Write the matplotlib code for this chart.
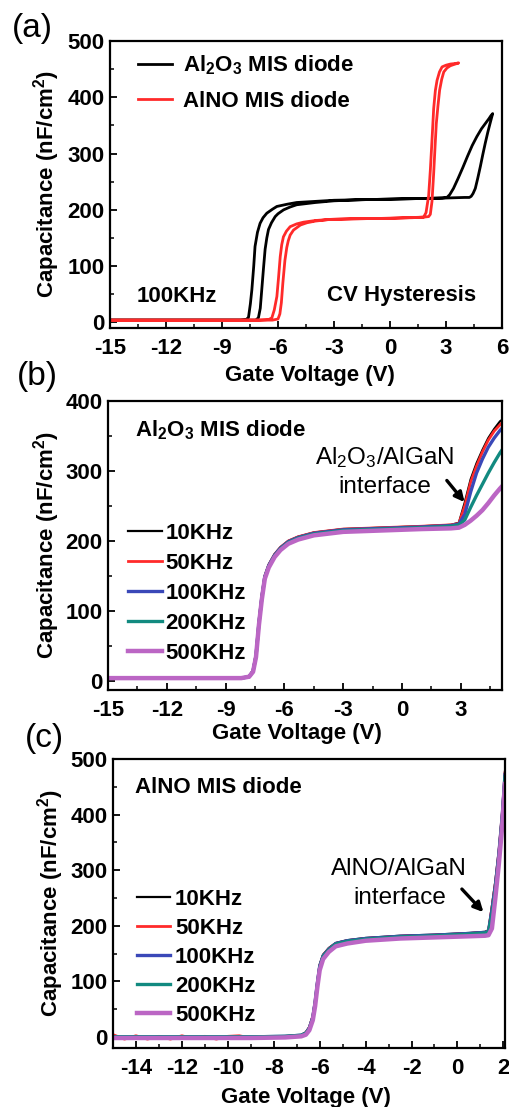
import matplotlib
matplotlib.use("Agg")
import matplotlib.pyplot as plt
from matplotlib.ticker import MultipleLocator

plt.rcParams.update({
    "font.family": ["Liberation Sans", "DejaVu Sans"],
    "font.weight": "bold",
    "mathtext.default": "regular",
    "axes.unicode_minus": False,
    "axes.linewidth": 1.6,
    "xtick.direction": "in",
    "ytick.direction": "in",
})

# ---------------- (a) CV hysteresis at 100 kHz ----------------
al2o3_up_v = [-15, -12, -9, -8.0, -7.7, -7.58, -7.48, -7.40, -7.30, -7.23, -7.10, -6.96,
              -6.80, -6.60, -6.30, -6.06, -5.5, -5.0, -4.0, -3.0, -1.5, 0, 1.5, 3.0, 4.0,
              4.25, 4.35, 4.45, 4.57, 4.70, 4.84, 4.97, 5.10, 5.24, 5.38, 5.50]
al2o3_up_c = [4, 4, 4, 4, 5, 9, 33, 58, 100, 135, 160, 176,
              186, 194, 201, 206, 210, 213, 215, 217, 218, 219, 220, 221, 222,
              222, 224, 229, 238, 256, 277, 298, 318, 338, 356, 371]
al2o3_dn_v = [5.50, 5.40, 5.30, 5.10, 4.90, 4.65, 4.40, 4.15, 3.90, 3.65, 3.40, 3.20,
              3.05, 2.80, 1.5, 0, -1.5, -3.0, -4.0, -5.0, -5.35, -5.70, -6.00, -6.15,
              -6.35, -6.51, -6.60, -6.69, -6.78, -6.87, -6.95, -7.05, -7.20, -9, -12, -15]
al2o3_dn_c = [371, 367, 362, 353, 344, 330, 314, 295, 275, 256, 238, 227,
              222, 221, 220, 219, 218, 216, 213, 209, 205, 200, 193, 188,
              177, 165, 150, 130, 95, 58, 25, 8, 4, 4, 4, 4]

alno_up_v = [-15, -12, -9, -7.0, -6.5, -6.33, -6.20, -6.06, -5.97, -5.88, -5.80, -5.71,
             -5.55, -5.35, -5.0, -4.64, -4.0, -3.2, -2.0, 0, 1.2, 1.8, 1.93, 2.00,
             2.07, 2.16, 2.25, 2.34, 2.43, 2.52, 2.65, 2.79, 3.00, 3.23, 3.50, 3.68]
alno_up_c = [4, 4, 4, 4, 5, 8, 22, 46, 80, 117, 138, 152,
             162, 170, 175, 178, 181, 183, 184, 185, 186, 187, 195, 210,
             225, 270, 324, 380, 412, 430, 445, 454, 457, 459, 460, 461]
alno_dn_v = [3.68, 3.40, 3.23, 3.05, 2.88, 2.77, 2.66, 2.57, 2.48, 2.41, 2.34, 2.25,
             2.16, 2.07, 1.8, 0, -2.0, -3.2, -4.0, -4.45, -4.80, -5.17, -5.35, -5.45,
             -5.53, -5.63, -5.74, -5.82, -5.90, -6.00, -6.30, -9, -12, -15]
alno_dn_c = [461, 458, 456, 452, 445, 432, 413, 385, 353, 310, 265, 215,
             192, 188, 187, 185, 184, 183, 180, 177, 173, 164, 155, 145,
             133, 110, 70, 35, 15, 6, 4, 4, 4, 4]

# ---------------- (b) Al2O3 diode, frequency dispersion ----------------
freq_labels = ["10KHz", "50KHz", "100KHz", "200KHz", "500KHz"]
freq_colors = ["#000000", "#ff2a2a", "#3a48b8", "#128a80", "#bb66c4"]
freq_widths = [1.6, 2.0, 2.4, 2.4, 3.2]

b_v = [-15, -12, -9, -8.2, -7.8, -7.6, -7.45, -7.3, -7.15, -7.0, -6.8, -6.5, -6.2,
       -5.8, -5.3, -4.5, -3.0, -1.0, 1.0, 2.5, 2.9, 3.2, 3.5, 3.8, 4.1, 4.4, 4.7, 5.0, 5.1]
b_c_10k = [4, 4, 4, 4, 6, 15, 38, 85, 122, 150, 166, 181, 191,
           200, 206, 212, 217, 219, 221, 223, 226, 255, 288, 311, 330, 347, 360, 371, 373]
b_c_50k = [4, 4, 4, 4, 6, 15, 38, 85, 122, 150, 166, 181, 191,
           200, 206, 212, 217, 219, 221, 223, 225, 250, 284, 307, 327, 344, 357, 366, 369]
b_c_100k = [4, 4, 4, 4, 6, 14, 36, 83, 120, 149, 165, 180, 190,
            199, 205, 211, 216, 218, 220, 222, 224, 238, 270, 297, 317, 334, 347, 358, 361]
b_c_200k = [4, 4, 4, 4, 6, 14, 35, 82, 119, 148, 164, 179, 189,
            198, 204, 210, 215, 217, 219, 221, 223, 230, 248, 265, 281, 297, 312, 326, 330]
b_c_500k = [4, 4, 4, 4, 6, 13, 34, 80, 117, 146, 162, 177, 187,
            196, 202, 208, 213, 215, 217, 218, 219, 223, 229, 236, 244, 254, 265, 275, 278]

# ---------------- (c) AlNO diode, frequency dispersion ----------------
c_v = [-15, -13, -11, -9, -7.5, -6.8, -6.6, -6.45, -6.3, -6.2, -6.1, -6.0, -5.85,
       -5.6, -5.3, -4.8, -4.0, -2.5, -1.0, 0.5, 1.2, 1.35, 1.5, 1.65, 1.8, 1.95, 2.07]
c_c_10k = [0, 0, 0, 0, 1, 3, 8, 18, 38, 65, 100, 130, 148,
           160, 169, 174, 178, 182, 184, 187, 189, 192, 235, 280, 335, 405, 478]
c_c_100k = [0, 0, 0, 0, 1, 3, 7, 16, 35, 62, 97, 127, 146,
            158, 168, 173, 177, 181, 183, 186, 188, 190, 228, 272, 328, 398, 472]
c_c_200k = [0, 0, 0, 0, 1, 3, 7, 15, 34, 60, 95, 125, 145,
            157, 167, 172, 176, 180, 182, 185, 187, 189, 222, 266, 322, 392, 468]
c_c_500k = [-2, -2, -2, -2, -1, 1, 4, 12, 30, 55, 90, 120, 140,
            153, 163, 168, 173, 177, 179, 181, 182, 183, 195, 250, 310, 380, 455]
c_v_50k = [-15, -14.5, -14, -13.5, -13, -12.5, -12, -11.5, -11, -10.5, -10, -9.5, -9,
           -7.5, -6.8, -6.6, -6.45, -6.3, -6.2, -6.1, -6.0, -5.85, -5.6, -5.3, -4.8,
           -4.0, -2.5, -1.0, 0.5, 1.2, 1.35, 1.5, 1.65, 1.8, 1.95, 2.07]
c_c_50k = [4, -4, 2, -4, 1, -4, 2, -3, 1, -4, 1, 2, -2,
           1, 3, 8, 17, 37, 63, 98, 128, 147, 159, 168, 173,
           177, 181, 183, 186, 188, 191, 232, 276, 332, 402, 475]

b_series = [b_c_10k, b_c_50k, b_c_100k, b_c_200k, b_c_500k]
c_series = [(c_v, c_c_10k), (c_v_50k, c_c_50k), (c_v, c_c_100k), (c_v, c_c_200k), (c_v, c_c_500k)]

W, H = 510, 1107
fig = plt.figure(figsize=(W / 100, H / 100), dpi=100)


def px_axes(left, top, right, bottom):
    return fig.add_axes([left / W, 1 - bottom / H, (right - left) / W, (bottom - top) / H])


ax_a = px_axes(110, 41, 502, 328)
ax_b = px_axes(108, 401, 502, 690)
ax_c = px_axes(113, 759, 505, 1048)

tick_fs = 16
label_fs = 16
text_fs = 16
note_fs = 17.5


def style(ax, xmaj, xmin, ymaj, ymin, xlabel_xy, ylabel_x):
    ax.xaxis.set_major_locator(MultipleLocator(xmaj))
    ax.xaxis.set_minor_locator(MultipleLocator(xmin))
    ax.yaxis.set_major_locator(MultipleLocator(ymaj))
    ax.yaxis.set_minor_locator(MultipleLocator(ymin))
    ax.tick_params(which="major", length=5, width=1.3, labelsize=tick_fs)
    ax.tick_params(which="minor", length=3, width=1.1)
    ax.tick_params(axis="x", which="both", pad=7)
    ax.tick_params(axis="y", which="both", pad=4)
    ax.set_xlabel("Gate Voltage (V)", fontsize=label_fs, fontweight="bold", va="center")
    ax.xaxis.set_label_coords(*xlabel_xy)
    ax.set_ylabel("Capacitance (nF/cm$^{2}$)", fontsize=label_fs, fontweight="bold",
                  va="center", ha="center")
    ax.yaxis.set_label_coords(ylabel_x, 0.5)


# (a)
ax_a.plot(al2o3_up_v + al2o3_dn_v, al2o3_up_c + al2o3_dn_c, color="black", lw=2.0,
          label="Al$_2$O$_3$ MIS diode")
ax_a.plot(alno_up_v + alno_dn_v, alno_up_c + alno_dn_c, color="#ff2a2a", lw=2.0,
          label="AlNO MIS diode")
ax_a.set_xlim(-15, 6)
ax_a.set_ylim(-10, 500)
style(ax_a, 3, 1.5, 100, 50, (0.509, -0.167), -0.163)
ax_a.legend(loc="center left", bbox_to_anchor=(0.071, 0.855), frameon=False,
            fontsize=text_fs, handlelength=1.53, handletextpad=0.5, labelspacing=0.62,
            borderpad=0, borderaxespad=0)
ax_a.text(0.069, 0.092, "100KHz", transform=ax_a.transAxes, fontsize=text_fs, va="baseline")
ax_a.text(0.553, 0.095, "CV Hysteresis", transform=ax_a.transAxes, fontsize=text_fs,
          va="baseline")

# (b)
for lab, col, lw, cv in zip(freq_labels, freq_colors, freq_widths, b_series):
    ax_b.plot(b_v, cv, color=col, lw=lw, label=lab)
ax_b.set_xlim(-15, 5.1)
ax_b.set_ylim(-13, 400)
style(ax_b, 3, 1.5, 100, 50, (0.48, -0.149), -0.155)
ax_b.legend(loc="center left", bbox_to_anchor=(0.051, 0.334), frameon=False,
            fontsize=text_fs, handlelength=1.53, handletextpad=0.14, labelspacing=0.4,
            borderpad=0, borderaxespad=0)
ax_b.text(0.069, 0.876, "Al$_2$O$_3$ MIS diode", transform=ax_b.transAxes, fontsize=text_fs,
          va="baseline")
ax_b.text(0.703, 0.782, "Al$_2$O$_3$/AlGaN", transform=ax_b.transAxes, fontsize=note_fs,
          fontweight="normal", ha="center", va="baseline")
ax_b.text(0.703, 0.681, "interface", transform=ax_b.transAxes, fontsize=note_fs,
          fontweight="normal", ha="center", va="baseline")
ax_b.annotate("", xy=(0.905, 0.650), xytext=(0.860, 0.725), xycoords="axes fraction",
              arrowprops=dict(arrowstyle="-|>", lw=2.4, color="black", mutation_scale=14,
                              shrinkA=0, shrinkB=0))

# (c)
for lab, col, lw, (vv, cv) in zip(freq_labels, freq_colors, freq_widths, c_series):
    ax_c.plot(vv, cv, color=col, lw=lw, label=lab)
ax_c.set_xlim(-15, 2.07)
ax_c.set_ylim(-20, 500)
style(ax_c, 2, 1, 100, 50, (0.492, -0.17), -0.16)
ax_c.legend(loc="center left", bbox_to_anchor=(0.061, 0.313), frameon=False,
            fontsize=text_fs, handlelength=1.49, handletextpad=0.22, labelspacing=0.36,
            borderpad=0, borderaxespad=0)
ax_c.text(0.056, 0.883, "AlNO MIS diode", transform=ax_c.transAxes, fontsize=text_fs,
          va="baseline")
ax_c.text(0.73, 0.599, "AlNO/AlGaN", transform=ax_c.transAxes, fontsize=note_fs,
          fontweight="normal", ha="center", va="baseline")
ax_c.text(0.731, 0.498, "interface", transform=ax_c.transAxes, fontsize=note_fs,
          fontweight="normal", ha="center", va="baseline")
ax_c.annotate("", xy=(0.945, 0.470), xytext=(0.890, 0.550), xycoords="axes fraction",
              arrowprops=dict(arrowstyle="-|>", lw=2.4, color="black", mutation_scale=14,
                              shrinkA=0, shrinkB=0))

# panel letters
for lab, cx, cy in [("(a)", 32, 28), ("(b)", 37, 377), ("(c)", 44, 739)]:
    fig.text(cx / W, 1 - cy / H, lab, fontsize=24, fontweight="normal",
             ha="center", va="center")

fig.savefig("out.png", dpi=100)
